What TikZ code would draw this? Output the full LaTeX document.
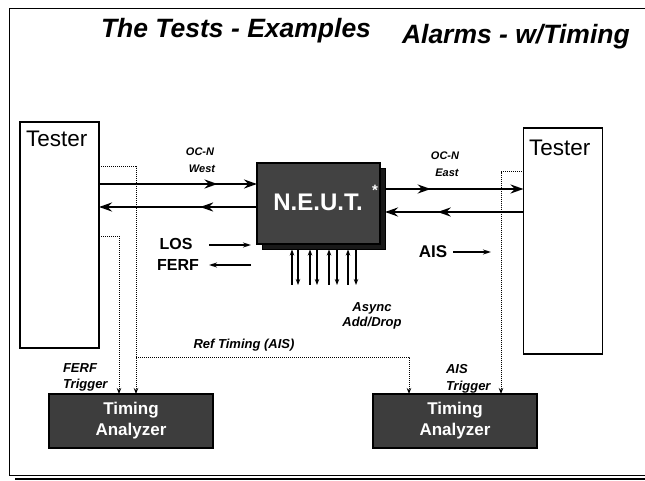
\documentclass[tikz,border=0pt]{standalone}
\usepackage{fontspec}
\setmainfont{Liberation Sans}
\usetikzlibrary{arrows.meta,decorations.markings,calc}
\begin{document}
\begin{tikzpicture}[x=1pt,y=-1pt,
  every node/.style={inner sep=0pt,outer sep=0pt},
  testerbox/.style={draw,line width=1.6pt,minimum width=79pt,minimum height=226pt},
  darkbox/.style={draw=black,line width=1.2pt,fill=black!76,text=white,align=center,
     font=\bfseries\fontsize{17}{21}\selectfont},
  bigline/.style={line width=2.2pt,-{Stealth[length=13pt,width=9pt]}},
  midarrow/.style={postaction=decorate,decoration={markings,
     mark=at position #1 with {\arrow{Stealth[length=13pt,width=9pt]}}}},
  dotline/.style={densely dotted,line width=1pt,-{Stealth[length=6pt,width=4.5pt]}},
  smallarrow/.style={line width=1.4pt,-{Stealth[length=8pt,width=5pt]}},
  pinup/.style={line width=1.1pt,{Stealth[length=6pt,width=4.5pt]}-},
  pindown/.style={line width=1.1pt,-{Stealth[length=6pt,width=4.5pt]}},
  titlefont/.style={font=\bfseries\itshape\fontsize{26.5}{30}\selectfont},
  labelit/.style={font=\bfseries\itshape\fontsize{13}{15}\selectfont},
  labelsm/.style={font=\bfseries\itshape\fontsize{11}{13}\selectfont},
  labelbig/.style={font=\bfseries\fontsize{16}{19}\selectfont},
  testerfont/.style={font=\fontsize{22.5}{26}\selectfont}
]
\useasboundingbox (0,0) rectangle (645,481);
% frame
\draw[line width=0.8pt] (645,8) -- (9,8) -- (9,475) -- (645,475);
\draw[line width=2pt] (15,478.5) -- (645,478.5);

% titles
\node[titlefont,anchor=base west] (title1) at (101,38) {The Tests - Examples};
\node[titlefont,anchor=base west] (title2) at (402,44) {Alarms - w/Timing};

% testers
\node[testerbox] (tl) at (59.5,235) {};
\node[testerbox] (tr) at (563,241) {};
\node[testerfont,anchor=base west] (tlt) at (26,147) {Tester};
\node[testerfont,anchor=base west] (trt) at (529,156) {Tester};

% NEUT
\node[draw=black,line width=1pt,fill=black!90,minimum width=123pt,minimum height=81pt] (neutsh) at (324,209) {};
\node[draw=black,line width=1.2pt,fill=black!74,minimum width=123pt,minimum height=81pt] (neut) at (318.5,203.5) {};
\node[text=white,font=\bfseries\fontsize{24}{26}\selectfont] (neutt) at (318,202) {N.E.U.T.};
\node[text=white,font=\bfseries\fontsize{15}{16}\selectfont] (ast) at (375,190) {*};

% timing analyzers
\node[darkbox,minimum width=164pt,minimum height=54pt] (la) at (131,421) {Timing\\Analyzer};
\node[darkbox,minimum width=164pt,minimum height=54pt] (ra) at (455,421) {Timing\\Analyzer};

% levels
\coordinate (lvW1) at (0,184);
\coordinate (lvW2) at (0,207);
\coordinate (lvE1) at (0,189);
\coordinate (lvE2) at (0,212);
\coordinate (neutR) at (385,0);

% OC-N arrows
\draw[bigline,midarrow=0.75] (tl.east |- lvW1) -- (neut.west |- lvW1);
\draw[bigline,midarrow=0.36] (neut.west |- lvW2) -- (tl.east |- lvW2);
\draw[bigline,midarrow=0.33] (neutR |- lvE1) -- (tr.west |- lvE1);
\draw[bigline,midarrow=0.62] (tr.west |- lvE2) -- (neutR |- lvE2);

\node[labelsm] (ocw1) at (200,152) {OC-N};
\node[labelsm] (ocw2) at (202,169) {West};
\node[labelsm] (oce1) at (445,156) {OC-N};
\node[labelsm] (oce2) at (447,173) {East};

% LOS / FERF / AIS
\node[labelbig] (los) at (176,244) {LOS};
\node[labelbig] (ferf) at (178,265) {FERF};
\node[font=\bfseries\fontsize{17}{19}\selectfont] (ais) at (433,252) {AIS};
\coordinate (losA) at (209,245);
\coordinate (losB) at (251,245);
\coordinate (ferfA) at (251,265);
\coordinate (ferfB) at (209,265);
\coordinate (aisA) at (453,252);
\coordinate (aisB) at (491,252);
\draw[smallarrow] (losA) -- (losB);
\draw[smallarrow] (ferfA) -- (ferfB);
\draw[smallarrow] (aisA) -- (aisB);

% add/drop pins
\foreach \px [count=\i] in {292,310,329,348} {
  \coordinate (pu\i) at (\px,285);
  \draw[pinup] (neutsh.south -| pu\i) -- (pu\i);
}
\foreach \px [count=\i] in {298,317,337,356} {
  \coordinate (pd\i) at (\px,285);
  \draw[pindown] (neutsh.south -| pd\i) -- (pd\i);
}
\node[labelit] (async1) at (372,308) {Async};
\node[labelit] (async2) at (372,323) {Add/Drop};

% dotted trigger lines
\coordinate (d1) at (136,167);
\coordinate (d2) at (119,236);
\coordinate (d3) at (501,172);
\coordinate (rt) at (136,357);
\coordinate (rtx) at (409,357);
\draw[dotline] (tl.east |- d1) -| (la.north -| d1);
\draw[dotline] (tl.east |- d2) -| (la.north -| d2);
\draw[dotline] (tr.west |- d3) -| (ra.north -| d3);
\draw[dotline] (rt) -| (ra.north -| rtx);

\node[labelit] (reft) at (244,345) {Ref Timing (AIS)};
\node[labelit,anchor=west] (ft1) at (63,368) {FERF};
\node[labelit,anchor=west] (ft2) at (63,385) {Trigger};
\node[labelit,anchor=west] (at1) at (446,369) {AIS};
\node[labelit,anchor=west] (at2) at (446,387) {Trigger};
\end{tikzpicture}
\end{document}
